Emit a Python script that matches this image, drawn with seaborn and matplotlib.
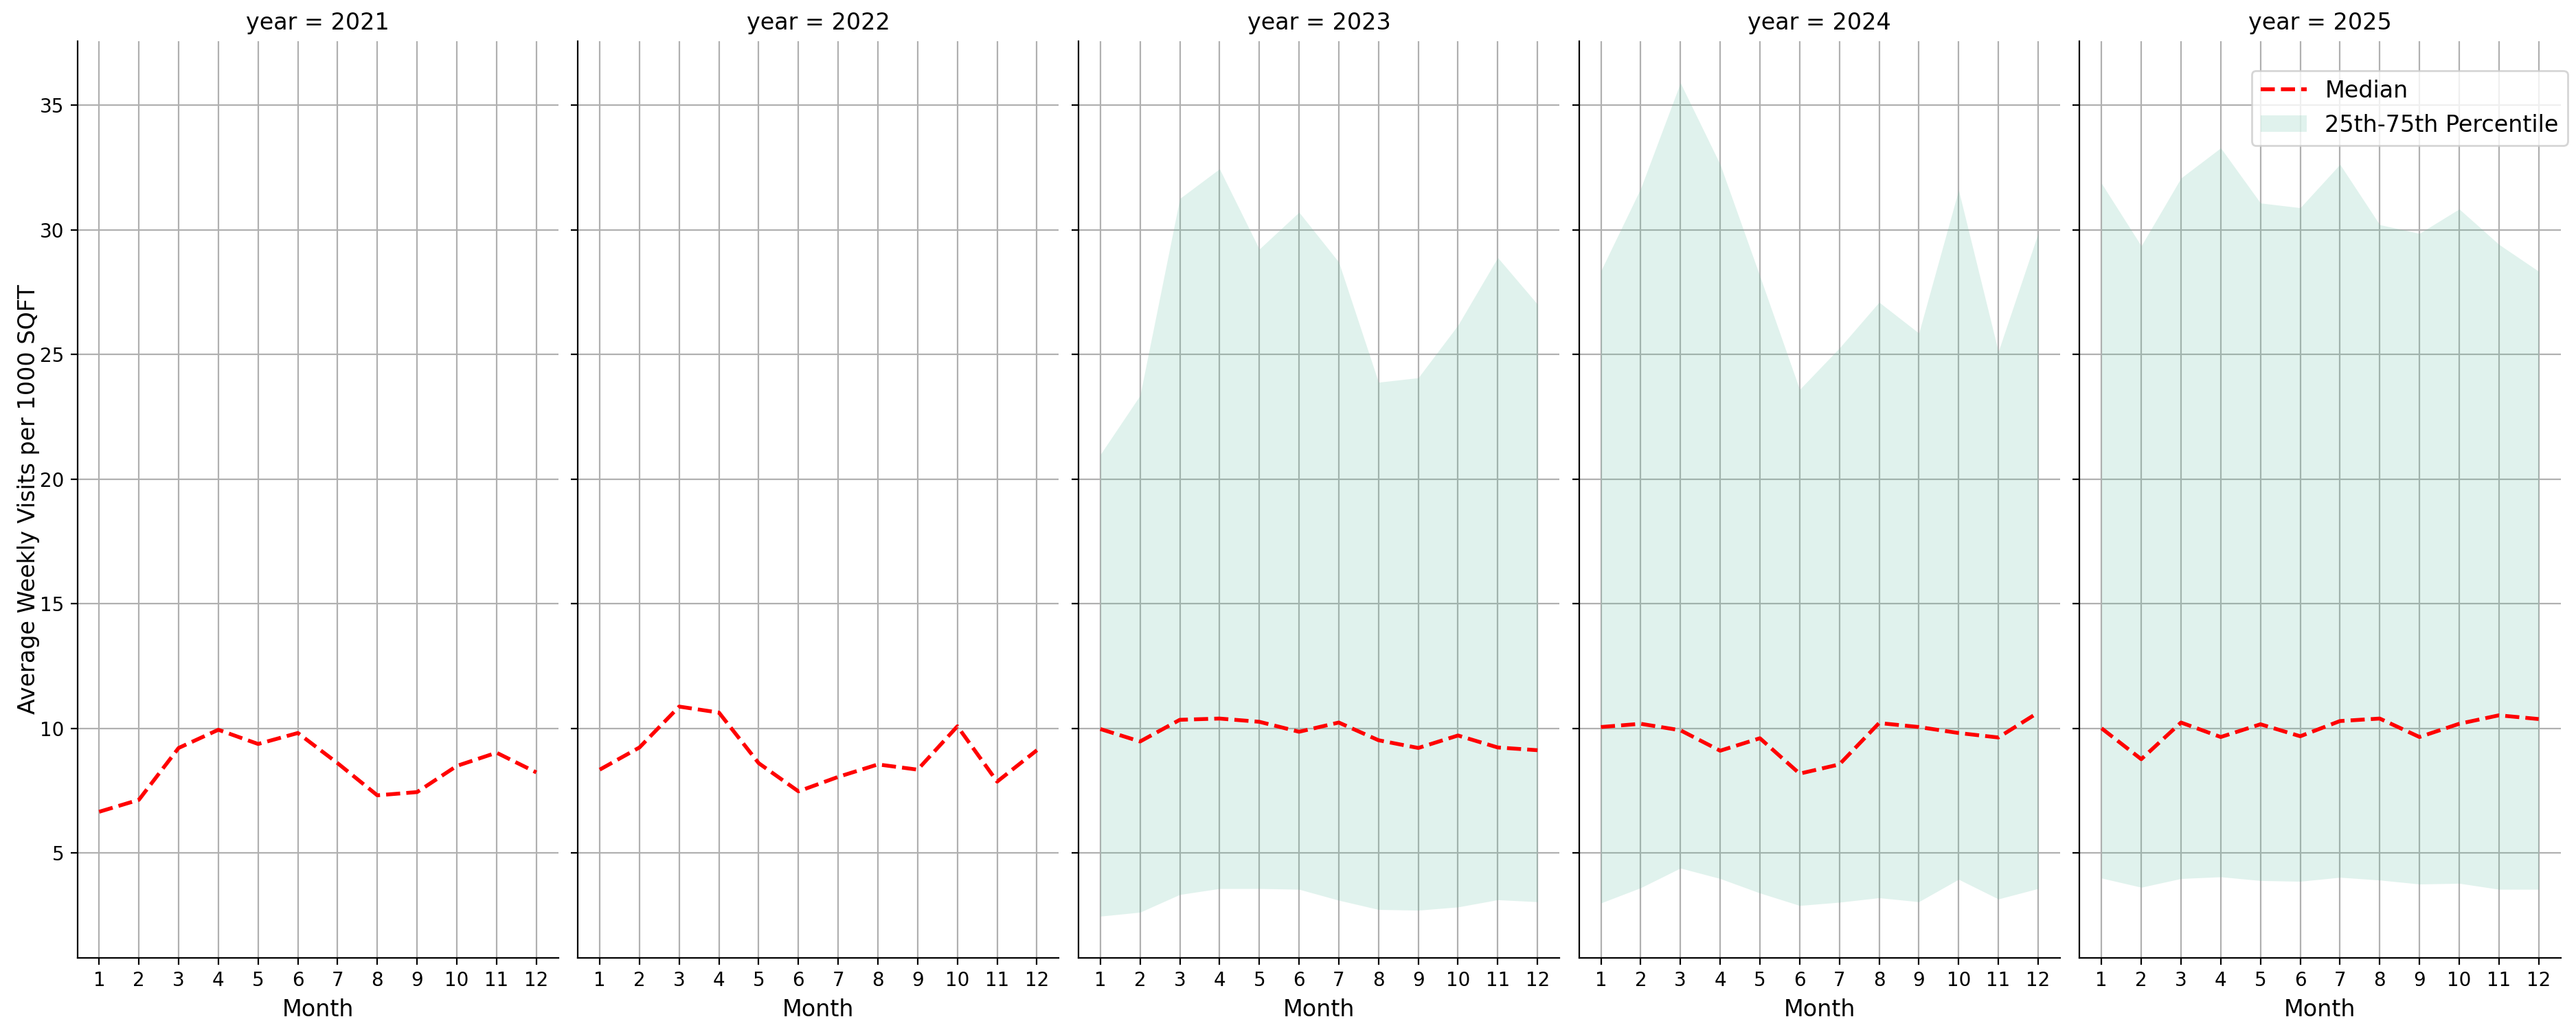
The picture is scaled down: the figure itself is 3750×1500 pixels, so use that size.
import numpy as np
import pandas as pd
import matplotlib
matplotlib.use("Agg")
import matplotlib.pyplot as plt
from matplotlib.patches import Patch
from matplotlib.lines import Line2D
import seaborn as sns

# values
months = list(range(1, 13))
years = [2021, 2022, 2023, 2024, 2025]

median_2021 = [6.66, 7.14, 9.22, 9.95, 9.38, 9.82, 8.61, 7.32, 7.45, 8.50, 9.03, 8.24]
median_2022 = [8.35, 9.24, 10.88, 10.64, 8.61, 7.48, 8.06, 8.56, 8.35, 10.09, 7.87, 9.13]
median_2023 = [9.98, 9.48, 10.35, 10.40, 10.27, 9.87, 10.24, 9.53, 9.22, 9.72, 9.24, 9.13]
median_2024 = [10.06, 10.19, 9.93, 9.11, 9.61, 8.19, 8.56, 10.22, 10.06, 9.82, 9.64, 10.64]
median_2025 = [10.01, 8.77, 10.24, 9.66, 10.17, 9.69, 10.30, 10.40, 9.66, 10.19, 10.53, 10.38]

p25_2023 = [2.47, 2.63, 3.34, 3.58, 3.58, 3.55, 3.11, 2.74, 2.71, 2.84, 3.13, 3.05]
p75_2023 = [20.99, 23.36, 31.26, 32.45, 29.23, 30.71, 28.71, 23.89, 24.07, 26.18, 28.89, 27.02]
p25_2024 = [3.00, 3.61, 4.40, 3.98, 3.40, 2.90, 3.03, 3.21, 3.05, 3.95, 3.16, 3.58]
p75_2024 = [28.36, 31.66, 35.90, 32.63, 28.15, 23.60, 25.26, 27.10, 25.86, 31.60, 25.12, 29.86]
p25_2025 = [4.00, 3.63, 3.98, 4.05, 3.90, 3.87, 4.03, 3.92, 3.76, 3.79, 3.55, 3.55]
p75_2025 = [31.87, 29.36, 32.08, 33.29, 31.08, 30.89, 32.63, 30.21, 29.86, 30.84, 29.42, 28.34]

no_band = [np.nan] * 12
medians = [median_2021, median_2022, median_2023, median_2024, median_2025]
p25s = [no_band, no_band, p25_2023, p25_2024, p25_2025]
p75s = [no_band, no_band, p75_2023, p75_2024, p75_2025]

frames = []
for yr, med, lo, hi in zip(years, medians, p25s, p75s):
    frames.append(pd.DataFrame({"year": yr, "Month": months, "median": med,
                                "p25": lo, "p75": hi}))
df = pd.concat(frames, ignore_index=True)

band_color = "#66c2a5"


def draw_panel(data, **kws):
    ax = plt.gca()
    band = data.dropna(subset=["p25", "p75"])
    if len(band):
        ax.fill_between(band["Month"], band["p25"], band["p75"],
                        color=band_color, alpha=0.2, linewidth=0)
    sns.lineplot(data=data, x="Month", y="median", color="red",
                 linestyle="--", linewidth=2, legend=False, ax=ax)
    ax.set_xticks(months)
    ax.set_axisbelow(True)
    ax.grid(True, color="#b0b0b0", linewidth=0.8)


g = sns.FacetGrid(df, col="year", height=7.5, aspect=0.5, sharey=True)
g.map_dataframe(draw_panel)
g.set_titles("year = {col_name}", size=12)
g.set_axis_labels("Month", "Average Weekly Visits per 1000 SQFT", fontsize=12)
g.axes.flat[0].yaxis.labelpad = 0
for ax in g.axes.flat:
    ax.tick_params(labelsize=10)

handles = [Line2D([0], [0], color="red", linestyle="--", linewidth=2),
           Patch(facecolor=band_color, alpha=0.2, linewidth=0)]
g.axes.flat[-1].legend(handles, ["Median", "25th-75th Percentile"],
                       loc="upper right", bbox_to_anchor=(1.015, 0.968),
                       borderaxespad=0, fontsize=12)

g.fig.subplots_adjust(left=0.030, right=0.994, bottom=0.07, top=0.96, wspace=0.041)
g.fig.savefig("out.png", dpi=200)
